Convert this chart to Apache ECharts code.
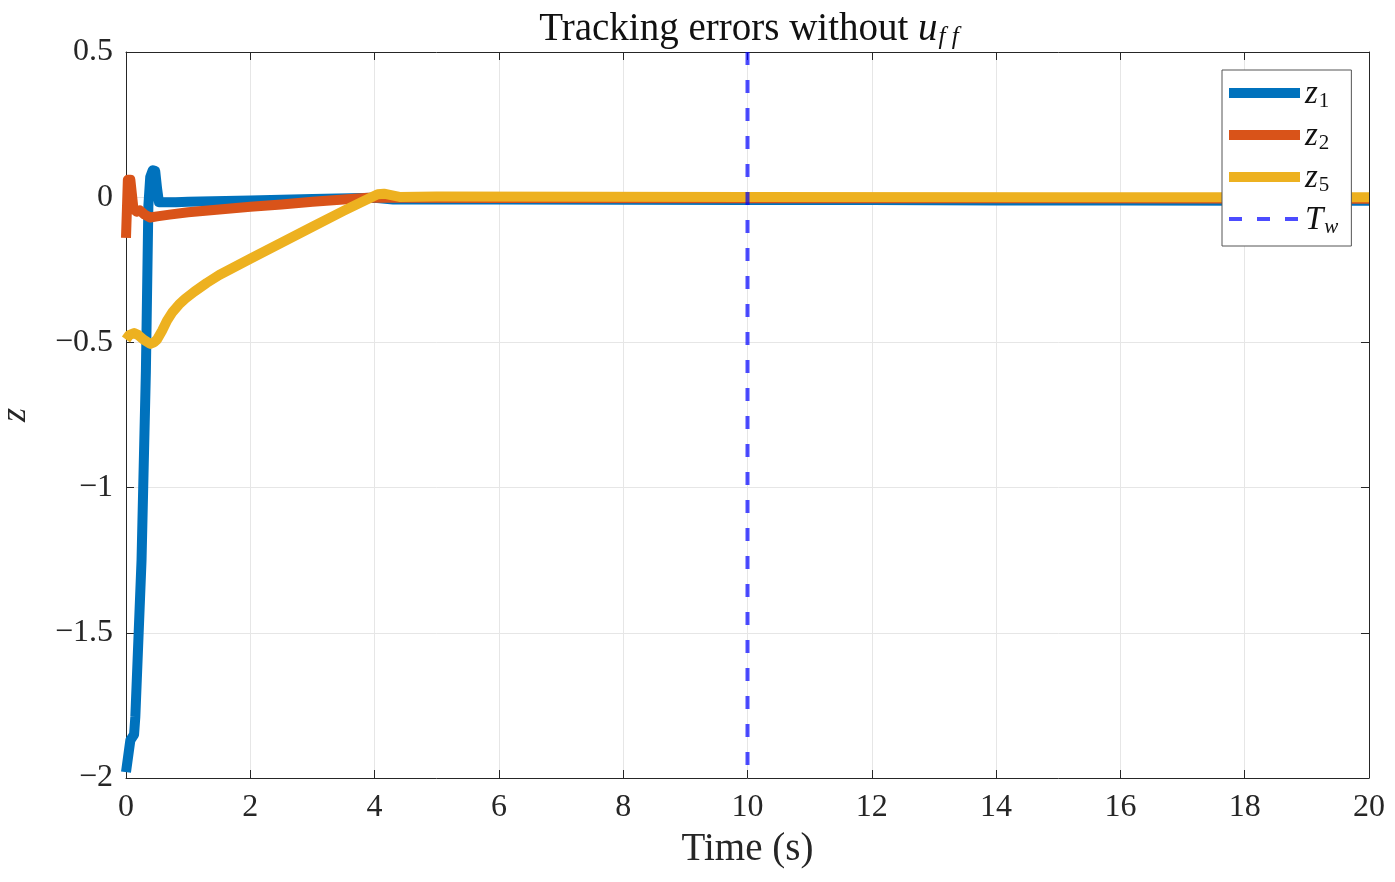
<!DOCTYPE html>
<html>
<head>
<meta charset="utf-8">
<script src="https://cdn.jsdelivr.net/npm/echarts@6/dist/echarts.min.js"></script>
<style>
  html, body { margin: 0; padding: 0; background: #fff; }
  #chart { width: 1395px; height: 882px; }
</style>
</head>
<body>
<div id="chart"></div>
<script>
// values
const z1Time = [0, 0.07, 0.13, 0.15, 0.25, 0.32, 0.36, 0.39, 0.43, 0.47, 0.5, 0.53, 0.8, 1, 2, 3, 4, 4.3, 6, 8, 10, 12, 14, 16, 18, 20];
const z1Vals = [-1.98, -1.87, -1.85, -1.79, -1.25, -0.6, -0.03, 0.07, 0.093, 0.09, 0.03, -0.017, -0.017, -0.016, -0.011, -0.006, -0.002, -0.008, -0.008, -0.009, -0.01, -0.01, -0.011, -0.011, -0.012, -0.012];

const z2Time = [0, 0.03, 0.07, 0.12, 0.17, 0.22, 0.3, 0.39, 0.5, 0.7, 1, 1.5, 2, 2.5, 3, 3.5, 3.9, 4.5, 6, 10, 15, 20];
const z2Vals = [-0.14, 0.06, 0.06, -0.04, -0.05, -0.045, -0.06, -0.07, -0.066, -0.06, -0.052, -0.042, -0.033, -0.025, -0.016, -0.008, -0.002, -0.002, -0.003, -0.004, -0.004, -0.005];

const z5Time = [0, 0.05, 0.13, 0.2, 0.28, 0.39, 0.45, 0.5, 0.58, 0.66, 0.75, 0.85, 0.95, 1.1, 1.3, 1.5, 2, 2.5, 3, 3.5, 3.9, 4.05, 4.15, 4.4, 5, 10, 15, 20];
const z5Vals = [-0.49, -0.475, -0.468, -0.475, -0.49, -0.505, -0.5, -0.49, -0.46, -0.425, -0.395, -0.37, -0.35, -0.325, -0.295, -0.268, -0.212, -0.157, -0.102, -0.047, -0.005, 0.01, 0.012, 0.001, 0.002, 0.001, 0.0, 0.0];

const twTime = 10;
const xTicks = [0, 20, 2];     // min, max, step
const yTicks = [-2, 0.5, 0.5];

const seriesNames = ['z1', 'z2', 'z5', 'Tw'];
const legendLabels = {
  z1: '{v|z}{s|1}',
  z2: '{v|z}{s|2}',
  z5: '{v|z}{s|5}',
  Tw: '{v|T}{si|w}'
};

const serif = '"Liberation Serif", "DejaVu Serif", serif';
const ink = '#262626';

function pairs(t, v) {
  return t.map((x, i) => [x, v[i]]);
}

function fmtY(v) {
  if (v === 0) return '0';
  return v < 0 ? '\u2212' + Math.abs(v) : String(v);
}

const chart = echarts.init(document.getElementById('chart'));

const tickStyle = { show: true, inside: true, length: 8, lineStyle: { color: ink } };
const lineStyleAxis = { show: true, onZero: false, lineStyle: { color: ink, width: 1 } };
const gridLines = { show: true, lineStyle: { color: '#e6e6e6', width: 1 } };

// top and right axes only close the box
const boxAxis = {
  axisLine: lineStyleAxis,
  axisTick: tickStyle,
  axisLabel: { show: false },
  splitLine: { show: false }
};

const option = {
  animation: false,
  backgroundColor: '#fff',
  title: {
    text: '{a|Tracking errors without }{u|u}{s|f f}',
    left: 744,
    top: 5,
    textAlign: 'center',
    textStyle: {
      rich: {
        a: { fontFamily: serif, fontSize: 39, fontWeight: 'normal', color: '#111', lineHeight: 38, verticalAlign: 'top' },
        u: { fontFamily: serif, fontSize: 39, fontWeight: 'normal', fontStyle: 'italic', color: '#111', lineHeight: 38, verticalAlign: 'top' },
        s: { fontFamily: serif, fontSize: 25, fontWeight: 'normal', fontStyle: 'italic', color: '#111', lineHeight: 25, padding: [15, 0, 0, 1], verticalAlign: 'top' }
      }
    }
  },
  grid: { left: 126, right: 26, top: 52, bottom: 104, containLabel: false, outerBoundsMode: 'none' },
  legend: {
    data: seriesNames,
    orient: 'vertical',
    left: 1222,
    top: 70,
    padding: [8, 13, 8, 2],
    itemGap: 8,
    itemWidth: 71,
    itemHeight: 10,
    backgroundColor: '#fff',
    borderColor: '#555',
    borderWidth: 1,
    borderRadius: 0,
    itemStyle: { opacity: 0 },
    lineStyle: { width: 'inherit' },
    formatter: name => legendLabels[name],
    textStyle: {
      rich: {
        v: { fontFamily: serif, fontSize: 33, fontStyle: 'italic', color: '#111', lineHeight: 30, verticalAlign: 'top' },
        s: { fontFamily: serif, fontSize: 21, color: '#111', lineHeight: 20, padding: [13, 0, 0, 1], verticalAlign: 'top' },
        si: { fontFamily: serif, fontSize: 21, fontStyle: 'italic', color: '#111', lineHeight: 20, padding: [13, 0, 0, 1], verticalAlign: 'top' }
      }
    }
  },
  xAxis: [{
    type: 'value',
    min: xTicks[0],
    max: xTicks[1],
    interval: xTicks[2],
    name: 'Time (s)',
    nameLocation: 'middle',
    nameGap: 52,
    nameTextStyle: { fontFamily: serif, fontSize: 39, color: ink },
    axisLine: lineStyleAxis,
    axisTick: tickStyle,
    axisLabel: { fontFamily: serif, fontSize: 32, color: ink, margin: 14 },
    splitLine: gridLines
  }, Object.assign({
    type: 'value', position: 'top', min: xTicks[0], max: xTicks[1], interval: xTicks[2]
  }, boxAxis)],
  yAxis: [{
    type: 'value',
    min: yTicks[0],
    max: yTicks[1],
    interval: yTicks[2],
    name: 'z',
    nameLocation: 'middle',
    nameRotate: 90,
    nameGap: 92,
    nameTextStyle: { fontFamily: serif, fontSize: 36, fontStyle: 'italic', color: ink },
    axisLine: lineStyleAxis,
    axisTick: tickStyle,
    axisLabel: { fontFamily: serif, fontSize: 32, color: ink, margin: 13, formatter: fmtY },
    splitLine: gridLines
  }, Object.assign({
    type: 'value', position: 'right', min: yTicks[0], max: yTicks[1], interval: yTicks[2]
  }, boxAxis)],
  series: [{
    name: 'z1',
    type: 'line',
    symbol: 'none',
    color: '#0072BD',
    lineStyle: { width: 10, color: '#0072BD', join: 'round' },
    data: pairs(z1Time, z1Vals)
  }, {
    name: 'z2',
    type: 'line',
    symbol: 'none',
    color: '#D95319',
    lineStyle: { width: 10, color: '#D95319', join: 'round' },
    data: pairs(z2Time, z2Vals)
  }, {
    name: 'z5',
    type: 'line',
    symbol: 'none',
    color: '#EDB120',
    lineStyle: { width: 10, color: '#EDB120', join: 'round' },
    data: pairs(z5Time, z5Vals)
  }, {
    name: 'Tw',
    type: 'line',
    symbol: 'none',
    color: 'rgba(0,0,255,0.7)',
    lineStyle: { width: 4, color: 'rgba(0,0,255,0.7)', type: [13, 15] },
    // drawn top-down so the dash pattern starts at the upper edge
    data: [[twTime, yTicks[1]], [twTime, yTicks[0]]]
  }]
};

chart.setOption(option);
</script>
</body>
</html>
